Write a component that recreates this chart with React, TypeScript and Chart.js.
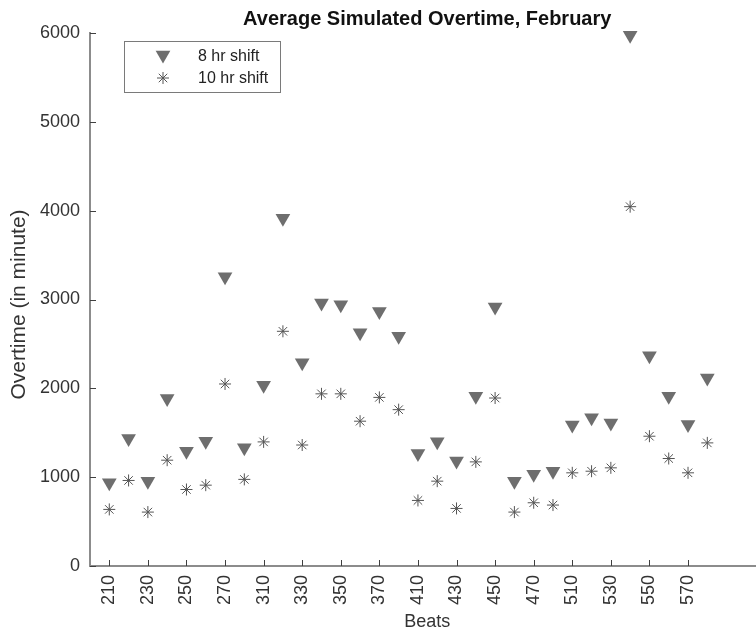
import React, { useEffect, useRef } from 'react';
import { Chart, registerables } from 'chart.js';

Chart.register(...registerables);

// Beat numbers along the x axis (every other one is labelled)
const beats = [
  210, 220, 230, 240, 250, 260, 270, 280,
  310, 320, 330, 340, 350, 360, 370, 380,
  410, 420, 430, 440, 450, 460, 470, 480,
  510, 520, 530, 540, 550, 560, 570, 580,
];

// Average simulated overtime (minutes) per beat
const shift8 = [
  936, 1435, 955, 1885, 1292, 1404, 3255, 1332,
  2035, 3915, 2287, 2960, 2940, 2625, 2866, 2586,
  1266, 1398, 1182, 1912, 2915, 955, 1032, 1068,
  1586, 1668, 1610, 5975, 2368, 1912, 1593, 2116,
];
const shift10 = [
  637, 963, 607, 1191, 861, 910, 2049, 975,
  1397, 2642, 1362, 1938, 1938, 1630, 1898, 1760,
  738, 955, 648, 1172, 1891, 607, 712, 686,
  1049, 1067, 1105, 4045, 1461, 1210, 1049, 1386,
];

const yTicks = [0, 1000, 2000, 3000, 4000, 5000, 6000];

const titleText = 'Average Simulated Overtime, February';
const xTitle = 'Beats';
const yTitle = 'Overtime (in minute)';
const legendLabels = ['8 hr shift', '10 hr shift'];

const FONT = '"Liberation Sans", Arial, Helvetica, sans-serif';
const TRI_COLOR = '#6e6e6e';
const STAR_COLOR = '#555555';
const AXIS_COLOR = '#8c8c8c';

function drawTriangleDown(ctx: CanvasRenderingContext2D, x: number, y: number, r: number) {
  ctx.beginPath();
  ctx.moveTo(x, y + r);
  ctx.lineTo(x - r * Math.sin(Math.PI / 3), y - r / 2);
  ctx.lineTo(x + r * Math.sin(Math.PI / 3), y - r / 2);
  ctx.closePath();
  ctx.fillStyle = TRI_COLOR;
  ctx.fill();
}

function drawStar(ctx: CanvasRenderingContext2D, x: number, y: number, r: number) {
  const d = r * Math.SQRT1_2;
  ctx.beginPath();
  ctx.moveTo(x - r, y); ctx.lineTo(x + r, y);
  ctx.moveTo(x, y - r); ctx.lineTo(x, y + r);
  ctx.moveTo(x - d, y - d); ctx.lineTo(x + d, y + d);
  ctx.moveTo(x - d, y + d); ctx.lineTo(x + d, y - d);
  ctx.strokeStyle = STAR_COLOR;
  ctx.lineWidth = 1;
  ctx.stroke();
}

const decorations = {
  id: 'decorations',
  afterDraw(chart: any) {
    const { ctx, chartArea, scales } = chart;
    const { left, right, top, bottom } = chartArea;
    const cx = (left + right) / 2;
    ctx.save();

    // tick marks pointing into the plot
    ctx.strokeStyle = '#404040';
    ctx.lineWidth = 1;
    ctx.beginPath();
    yTicks.forEach((v) => {
      const py = Math.round(scales.y.getPixelForValue(v)) + 0.5;
      ctx.moveTo(left, py);
      ctx.lineTo(left + 6, py);
    });
    beats.forEach((_, i) => {
      if (i % 2 !== 0) return;
      const px = Math.round(scales.x.getPixelForValue(i)) + 0.5;
      ctx.moveTo(px, bottom);
      ctx.lineTo(px, bottom - 6);
    });
    ctx.stroke();

    // title
    ctx.fillStyle = '#111';
    ctx.font = `bold 20px ${FONT}`;
    ctx.textAlign = 'center';
    ctx.textBaseline = 'middle';
    ctx.fillText(titleText, cx + 4, 19);

    // axis titles
    ctx.fillStyle = '#333';
    ctx.font = `18px ${FONT}`;
    ctx.fillText(xTitle, cx + 4, 622);
    ctx.save();
    ctx.translate(19, (top + bottom) / 2 + 5);
    ctx.rotate(-Math.PI / 2);
    ctx.font = `21px ${FONT}`;
    ctx.fillText(yTitle, 0, 0);
    ctx.restore();

    // legend
    const lx = 124.5, ly = 41.5, lw = 156, lh = 51;
    ctx.fillStyle = '#fff';
    ctx.fillRect(lx, ly, lw, lh);
    ctx.strokeStyle = '#7a7a7a';
    ctx.lineWidth = 1;
    ctx.strokeRect(lx, ly, lw, lh);
    drawTriangleDown(ctx, 163, 55, 8.5);
    drawStar(ctx, 163, 78, 6);
    ctx.fillStyle = '#222';
    ctx.font = `16px ${FONT}`;
    ctx.textAlign = 'left';
    ctx.textBaseline = 'middle';
    ctx.fillText(legendLabels[0], 198, 57);
    ctx.fillText(legendLabels[1], 198, 79);

    ctx.restore();
  },
};

export default function App() {
  const ref = useRef<HTMLCanvasElement | null>(null);

  useEffect(() => {
    if (!ref.current) return;
    const chart = new Chart(ref.current, {
      type: 'scatter',
      data: {
        datasets: [
          {
            label: legendLabels[0],
            data: shift8.map((y, i) => ({ x: i, y })),
            pointStyle: 'triangle',
            pointRotation: 180,
            pointRadius: 8.5,
            pointHoverRadius: 8.5,
            pointBackgroundColor: TRI_COLOR,
            pointBorderColor: TRI_COLOR,
            pointBorderWidth: 0,
            backgroundColor: TRI_COLOR,
            borderColor: TRI_COLOR,
            clip: false,
          } as any,
          {
            label: legendLabels[1],
            data: shift10.map((y, i) => ({ x: i, y })),
            pointStyle: 'star',
            pointRadius: 6,
            pointHoverRadius: 6,
            pointBackgroundColor: 'transparent',
            pointBorderColor: STAR_COLOR,
            pointBorderWidth: 1,
            backgroundColor: 'transparent',
            borderColor: STAR_COLOR,
            clip: false,
          } as any,
        ],
      },
      options: {
        animation: false,
        responsive: true,
        maintainAspectRatio: false,
        events: [],
        layout: { padding: { top: 33, left: 0, right: 0, bottom: 0 } },
        plugins: {
          legend: { display: false },
          tooltip: { enabled: false },
          title: { display: false },
        },
        scales: {
          x: {
            type: 'linear',
            min: -1,
            max: 33.55,
            grid: { display: false, drawTicks: false },
            border: { display: true, color: AXIS_COLOR, width: 2 },
            afterBuildTicks: (scale: any) => {
              scale.ticks = beats
                .map((_, i) => i)
                .filter((i) => i % 2 === 0)
                .map((v) => ({ value: v }));
            },
            ticks: {
              autoSkip: false,
              minRotation: 90,
              maxRotation: 90,
              padding: 9,
              color: '#333',
              font: { family: FONT, size: 18 },
              callback: (v: any) => String(beats[v as number] ?? ''),
            },
            afterFit: (scale: any) => {
              scale.height = 69;
            },
          },
          y: {
            type: 'linear',
            min: 0,
            max: 6000,
            grid: { display: false, drawTicks: false },
            border: { display: true, color: AXIS_COLOR, width: 2 },
            afterBuildTicks: (scale: any) => {
              scale.ticks = yTicks.map((v) => ({ value: v }));
            },
            ticks: {
              padding: 10,
              color: '#333',
              font: { family: FONT, size: 18 },
              callback: (v: any) => String(v),
            },
            afterFit: (scale: any) => {
              scale.width = 90;
            },
          },
        },
      },
      plugins: [decorations],
    });
    return () => chart.destroy();
  }, []);

  return (
    <div
      style={{
        position: 'fixed',
        left: 0,
        top: 0,
        width: 765,
        height: 635,
        background: '#fff',
      }}
    >
      <canvas ref={ref} />
    </div>
  );
}
